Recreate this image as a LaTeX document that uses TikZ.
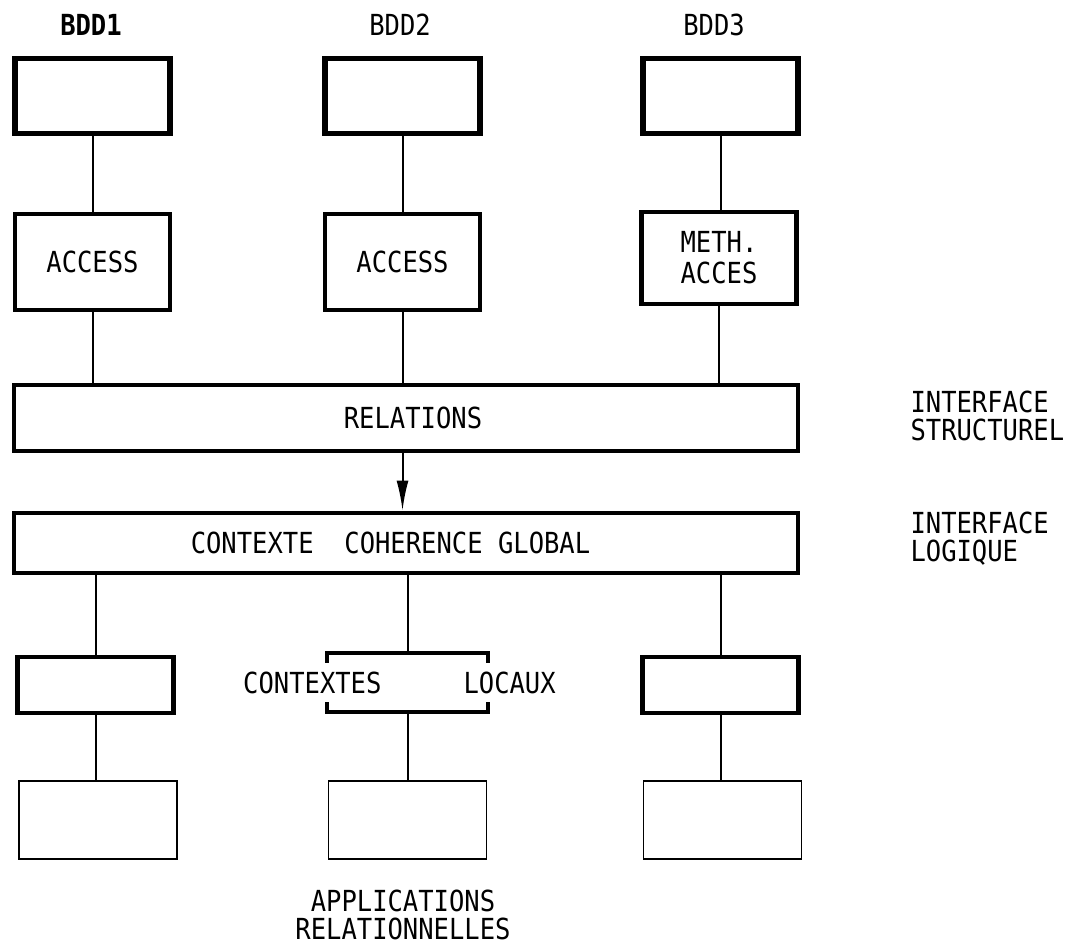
\documentclass[tikz,border=0pt]{standalone}
\usepackage{fontspec}
\setmainfont{DejaVu Sans Mono}[FakeStretch=0.88]
\usetikzlibrary{arrows.meta, positioning}
\newcommand{\tw}{\fontsize{29}{28}\selectfont}
\tikzset{
  bddbox/.style={draw, line width=5.5pt, minimum width=155pt, minimum height=75pt},
  accbox/.style={draw, line width=4.5pt, minimum width=155pt, minimum height=96pt, align=center},
  bar/.style={draw, line width=4pt, minimum width=784pt},
  locbox/.style={draw, line width=4.5pt, minimum width=156pt, minimum height=56pt},
  appbox/.style={draw, line width=1.8pt, minimum width=158pt, minimum height=78pt},
  lnk/.style={line width=2pt},
  arr/.style={-{Latex[length=30pt, width=12pt]}, line width=2pt},
  lbl/.style={align=left, anchor=west},
}

\begin{document}
\begin{tikzpicture}[x=1pt, y=-1pt, font=\tw]
    \useasboundingbox (0,0) rectangle (1081,945);
    % data bases
    \node[font={\tw\bfseries}] (n1) at (91,25) {BDD1};
    \node (n2) at (400,25) {BDD2};
    \node (n3) at (714,25) {BDD3};
    \node[bddbox] (d1) at (92.5,96) {};
    \node[bddbox] (d2) at (402.5,96) {};
    \node[bddbox] (d3) at (720.5,96) {};
    % access methods
    \node[accbox] (a1) at (92.5,262) {ACCESS};
    \node[accbox] (a2) at (402.5,262) {ACCESS};
    \node[accbox, minimum height=92pt] (a3) at (719,258) {METH.\\[3pt]ACCES};
    % interfaces
    \node[bar, minimum height=66pt] (rel) at (406,417.5) {\hspace*{14pt}RELATIONS};
    \node[bar, minimum height=60pt] (ctx) at (406,542.5) {CONTEXTE~~COHERENCE GLOBAL\hspace*{31pt}};
    \node[lbl] (istr) at (907,416) {INTERFACE\\STRUCTUREL};
    \node[lbl] (ilog) at (907,539) {INTERFACE\\LOGIQUE};
    % local contexts
    \node[locbox] (l1) at (95.5,685) {};
    \node[locbox] (l3) at (720.5,685) {};
    \node[minimum width=161pt, minimum height=59pt, inner sep=0pt] (lm) at (407.5,682.5) {};
    \node[anchor=east] (tl) at (385,683) {CONTEXTES};
    \node[anchor=west] (tr) at (460,683) {LOCAUX};
    \draw[line width=4.5pt] ([yshift=-10pt]lm.north west) -- (lm.north west) -- (lm.north east) -- ([yshift=-10pt]lm.north east);
    \draw[line width=4.5pt] ([yshift=10pt]lm.south west) -- (lm.south west) -- (lm.south east) -- ([yshift=10pt]lm.south east);
    % applications
    \node[appbox] (p1) at (98,820) {};
    \node[appbox] (p2) at (407.5,820) {};
    \node[appbox] (p3) at (722.5,820) {};
    \node[align=center] (appl) at (403,915) {APPLICATIONS\\RELATIONNELLES};
    % links
    \draw[lnk] (d1) -- (a1);
    \draw[lnk] (d2) -- (a2);
    \draw[lnk] (d3.south) -- (d3.south |- a3.north);
    \draw[lnk] (a1.south) -- (a1.south |- rel.north);
    \draw[lnk] (a2.south) -- (a2.south |- rel.north);
    \draw[lnk] (a3.south) -- (a3.south |- rel.north);
    \draw[arr] (rel.south -| a2) -- (ctx.north -| a2);
    \draw[lnk] (ctx.south -| l1) -- (l1.north);
    \draw[lnk] (ctx.south -| lm) -- (lm.north);
    \draw[lnk] (ctx.south -| l3) -- (l3.north);
    \draw[lnk] (l1.south) -- (l1.south |- p1.north);
    \draw[lnk] (lm.south) -- (lm.south |- p2.north);
    \draw[lnk] (l3.south) -- (l3.south |- p3.north);
\end{tikzpicture}
\end{document}
